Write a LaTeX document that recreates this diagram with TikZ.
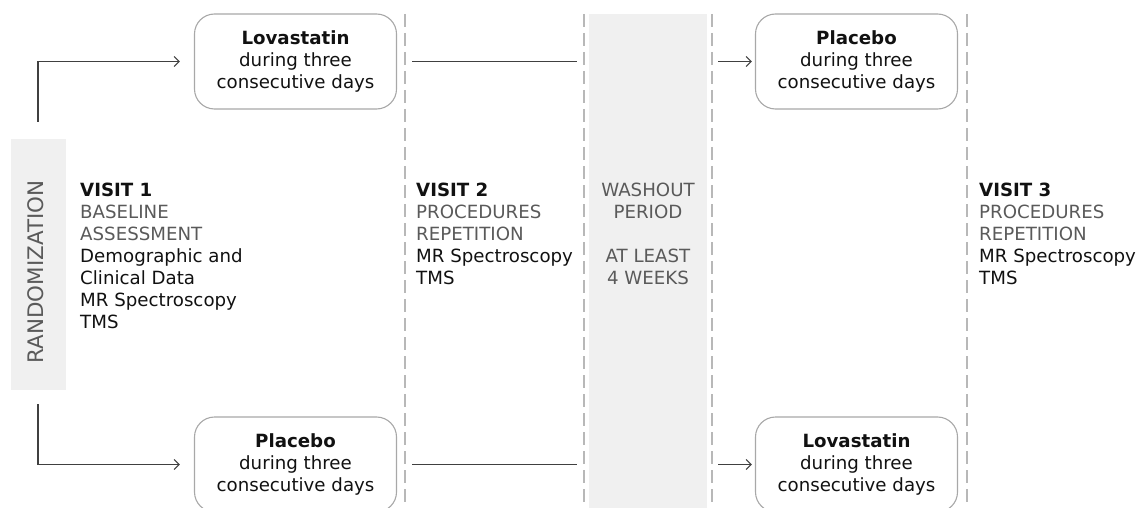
\documentclass[tikz,border=0pt]{standalone}
\usepackage{fontspec}
\setmainfont{DejaVu Sans}
\usetikzlibrary{arrows.meta}
\definecolor{bandgray}{HTML}{F0F0F0}
\definecolor{dashgray}{HTML}{B8B8B8}
\definecolor{boxgray}{HTML}{A8A8A8}
\definecolor{txtgray}{HTML}{5A5A5A}
\definecolor{linegray}{HTML}{404040}
\definecolor{txtblack}{HTML}{111111}
\begin{document}
\begin{tikzpicture}[x=1pt,y=-1pt,
  txt/.style={font=\fontsize{18.2}{22}\selectfont, inner sep=0pt, text=txtblack},
  drugbox/.style={txt, draw=boxgray, line width=1.1pt, rounded corners=20pt, minimum width=202pt, minimum height=95pt, align=center, fill=white},
  band/.style={fill=bandgray, draw=none, inner sep=0pt},
  divider/.style={draw=dashgray, line width=1.4pt, dash pattern=on 13pt off 6pt},
  conn/.style={draw=linegray, line width=1.2pt},
  tip/.style={-{Straight Barb[length=5pt,width=10pt]}},
  info/.style={txt, align=left, anchor=north west},
]
\useasboundingbox (0,0) rectangle (1138,508);
\clip (0,0) rectangle (1138,508);

% background bands
\node[band, minimum width=55pt, minimum height=251pt] (rand) at (38.5,264.5) {};
\node[txt, font=\fontsize{21.4}{24}\selectfont, text=txtgray, rotate=90] (randlbl) at (36,272) {RANDOMIZATION};
\node[band, minimum width=118pt, minimum height=494pt, anchor=north west] (wash) at (589,14) {};

% dashed dividers
\foreach \i/\xx in {1/405,2/584,3/712,4/967}{
  \coordinate (d\i t) at (\xx,14);
  \coordinate (d\i b) at (\xx,508);
  \draw[divider] (d\i t) -- (d\i b);
}

% treatment boxes
\node[drugbox] (lov1) at (295.5,61.5) {\textbf{Lovastatin}\\during three\\consecutive days};
\node[drugbox] (pla1) at (295.5,464.5) {\textbf{Placebo}\\during three\\consecutive days};
\node[drugbox] (pla2) at (856.5,61.5) {\textbf{Placebo}\\during three\\consecutive days};
\node[drugbox] (lov2) at (856.5,464.5) {\textbf{Lovastatin}\\during three\\consecutive days};

% connectors
\coordinate (up) at (38,122);
\coordinate (dn) at (38,404);
\draw[conn,tip,shorten >=14pt] (up) |- (lov1.west);
\draw[conn,tip,shorten >=14pt] (dn) |- (pla1.west);

\coordinate (m1e) at (577,61.5);
\coordinate (m1s) at (718,61.5);
\coordinate (m2e) at (577,464.5);
\coordinate (m2s) at (718,464.5);
\draw[conn,shorten <=15pt] (lov1.east) -- (m1e);
\draw[conn,shorten <=15pt] (pla1.east) -- (m2e);
\draw[conn,tip,shorten >=3pt] (m1s) -- (pla2.west);
\draw[conn,tip,shorten >=3pt] (m2s) -- (lov2.west);

% visit texts
\node[info] (v1) at (80,183) {\textbf{VISIT 1}\\\textcolor{txtgray}{BASELINE}\\\textcolor{txtgray}{ASSESSMENT}\\Demographic and\\Clinical Data\\MR Spectroscopy\\TMS};
\node[info] (v2) at (416,183) {\textbf{VISIT 2}\\\textcolor{txtgray}{PROCEDURES}\\\textcolor{txtgray}{REPETITION}\\MR Spectroscopy\\TMS};
\node[info] (v3) at (979,183) {\textbf{VISIT 3}\\\textcolor{txtgray}{PROCEDURES}\\\textcolor{txtgray}{REPETITION}\\MR Spectroscopy\\TMS};
\node[txt, align=center, anchor=north, text=txtgray] (wo) at (648,183) {WASHOUT\\PERIOD\\[22pt]AT LEAST\\4 WEEKS};
\end{tikzpicture}
\end{document}
